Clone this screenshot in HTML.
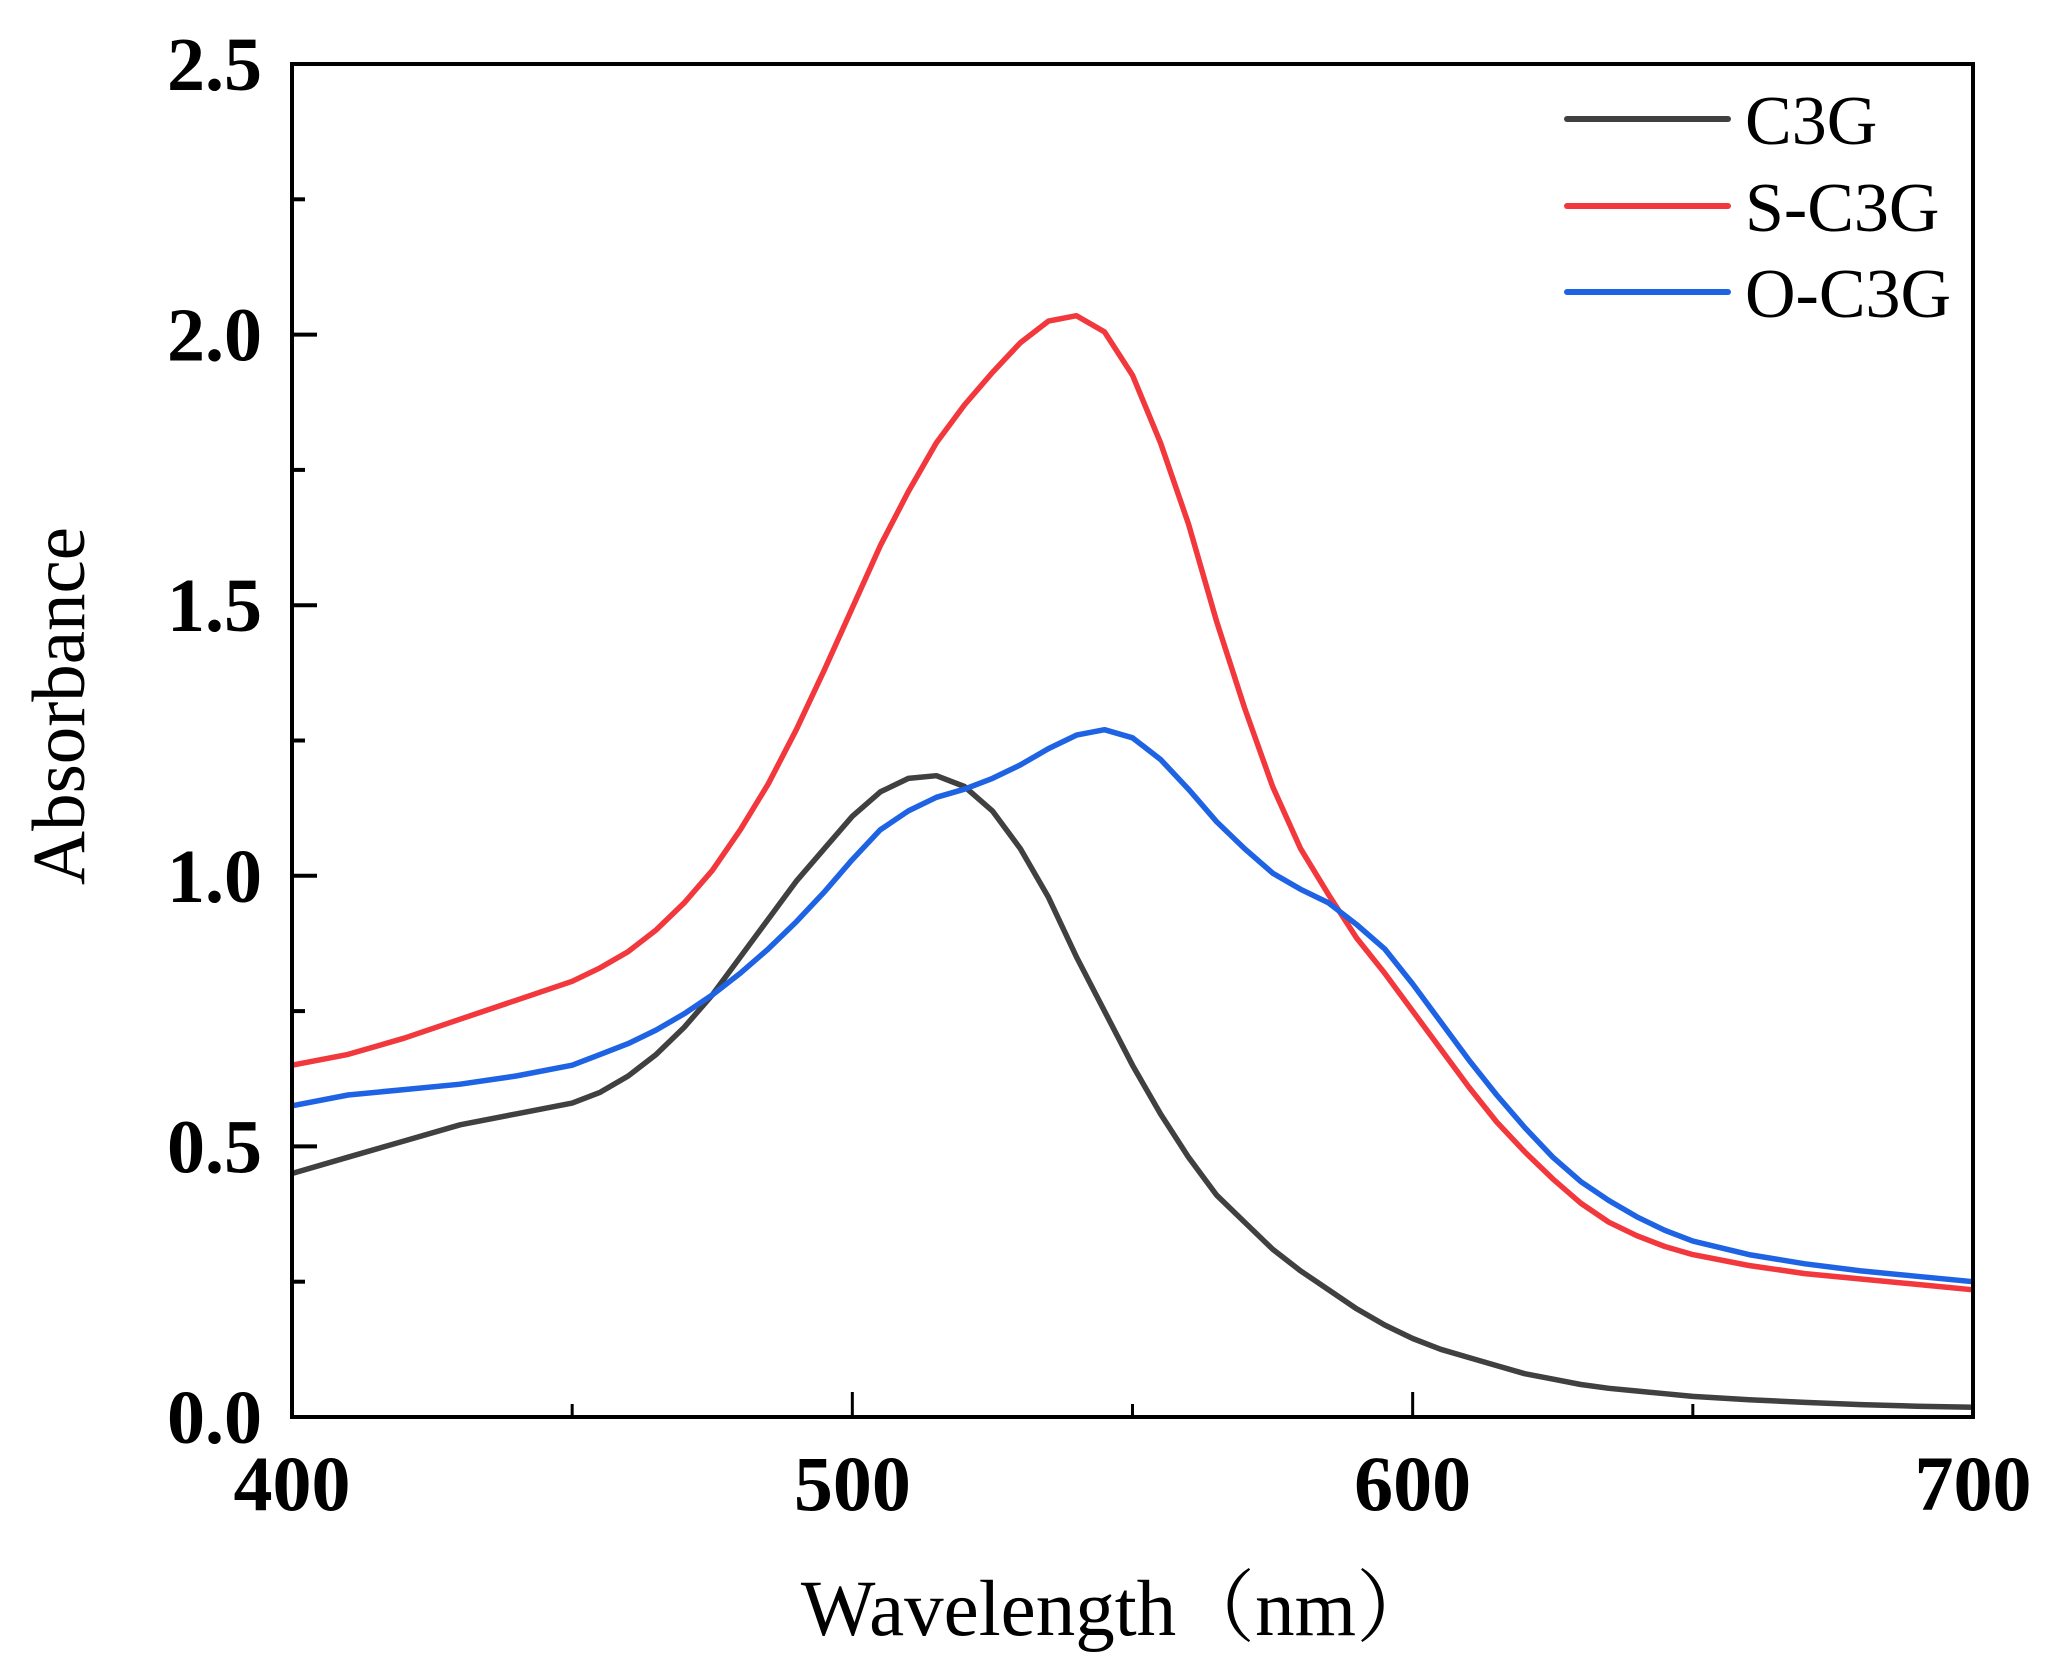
<!DOCTYPE html>
<html><head><meta charset="utf-8"><style>
html,body{margin:0;padding:0;background:#fff;}
svg{display:block;}
text{font-family:"Liberation Serif","Noto Serif CJK SC",serif;}
</style></head><body>
<svg id="chart" width="2062" height="1675" viewBox="0 0 2062 1675">
<g id="marks"></g>
<g id="axes"></g>
</svg>
<script>
const wavelengths = [400,410,420,430,440,450,455,460,465,470,475,480,485,490,495,500,505,510,515,520,525,530,535,540,545,550,555,560,565,570,575,580,585,590,595,600,605,610,615,620,625,630,635,640,645,650,660,670,680,690,700];
const c3g = [0.45,0.48,0.51,0.54,0.56,0.58,0.60,0.63,0.67,0.72,0.78,0.85,0.92,0.99,1.05,1.11,1.155,1.18,1.185,1.165,1.12,1.05,0.96,0.85,0.75,0.65,0.56,0.48,0.41,0.36,0.31,0.27,0.235,0.20,0.17,0.145,0.125,0.11,0.095,0.08,0.07,0.06,0.053,0.048,0.043,0.038,0.032,0.027,0.023,0.02,0.018];
const sC3g = [0.65,0.67,0.70,0.735,0.77,0.805,0.83,0.86,0.90,0.95,1.01,1.085,1.17,1.27,1.38,1.495,1.61,1.71,1.80,1.87,1.93,1.985,2.025,2.035,2.005,1.925,1.80,1.65,1.47,1.31,1.165,1.05,0.965,0.885,0.82,0.75,0.68,0.61,0.545,0.49,0.44,0.395,0.36,0.335,0.315,0.30,0.28,0.265,0.255,0.245,0.235];
const oC3g = [0.575,0.595,0.605,0.615,0.63,0.65,0.67,0.69,0.715,0.745,0.78,0.82,0.865,0.915,0.97,1.03,1.085,1.12,1.145,1.16,1.18,1.205,1.235,1.26,1.27,1.255,1.215,1.16,1.10,1.05,1.005,0.975,0.95,0.91,0.865,0.80,0.73,0.66,0.595,0.535,0.48,0.435,0.40,0.37,0.345,0.325,0.30,0.283,0.27,0.26,0.25];
const xTicks = [400,500,600,700];
const xMinor = [450,550,650];
const yTicks = ["0.0","0.5","1.0","1.5","2.0","2.5"];
const yMinor = [0.25,0.75,1.25,1.75,2.25];
const seriesNames = ["C3G","S-C3G","O-C3G"];

const L=292,R=1973,T=64,B=1417;
const xS=v=>L+(v-400)/(700-400)*(R-L);
const yS=v=>B-(v/2.5)*(B-T);
const NS="http://www.w3.org/2000/svg";
const marks=document.getElementById('marks'), axes=document.getElementById('axes');
function mk(tag,attrs,parent){const e=document.createElementNS(NS,tag);for(const k in attrs)e.setAttribute(k,attrs[k]);parent.appendChild(e);return e;}

const series=[c3g,sC3g,oC3g];
const colors=["#404040","#f2383c","#1e63e4"];
const keys=["c3g","s-c3g","o-c3g"];
series.forEach((vals,i)=>{
  const d=vals.map((v,j)=>(j?'L':'M')+xS(wavelengths[j]).toFixed(1)+' '+yS(v).toFixed(1)).join(' ');
  const p=mk('path',{d:d,fill:'none',stroke:colors[i],'stroke-width':5.5,'stroke-linejoin':'round'},marks);
  
  
});

const frame=mk('rect',{x:L,y:T,width:R-L,height:B-T,fill:'none',stroke:'#000','stroke-width':4},axes);



xTicks.forEach(v=>{
  const t=mk('line',{x1:xS(v),x2:xS(v),y1:B,y2:B-25,stroke:'#000','stroke-width':3},axes);
  
  
  const lb=mk('text',{x:xS(v),y:1510,'text-anchor':'middle','font-size':78,'font-weight':'bold'},axes);
  lb.textContent=v;
  
  
});
xMinor.forEach(v=>{
  const t=mk('line',{x1:xS(v),x2:xS(v),y1:B,y2:B-13,stroke:'#000','stroke-width':3},axes);
  
  
});
yTicks.forEach(s=>{
  const v=parseFloat(s);
  const t=mk('line',{x1:L,x2:L+25,y1:yS(v),y2:yS(v),stroke:'#000','stroke-width':4},axes);
  
  
  const lb=mk('text',{x:262,y:yS(v)+26,'text-anchor':'end','font-size':76,'font-weight':'bold'},axes);
  lb.textContent=s;
  
  
});
yMinor.forEach(v=>{
  const t=mk('line',{x1:L,x2:L+13,y1:yS(v),y2:yS(v),stroke:'#000','stroke-width':4},axes);
  
  
});

const xt=mk('text',{x:1118,y:1635,'text-anchor':'middle','font-size':79},axes);
xt.textContent='Wavelength（nm）';


const yt=mk('text',{x:0,y:0,'text-anchor':'middle','font-size':75,transform:'translate(84,706) rotate(-90)'},axes);
yt.textContent='Absorbance';



const legY=[119,206,292];
seriesNames.forEach((n,i)=>{
  const g=mk('g',{},axes);
  
  
  mk('line',{x1:1567,x2:1728,y1:legY[i],y2:legY[i],stroke:colors[i],'stroke-width':6,'stroke-linecap':'round'},g);
  const tx=mk('text',{x:1745,y:legY[i]+25,'font-size':70},g);
  tx.textContent=n;
});
</script>
</body></html>
